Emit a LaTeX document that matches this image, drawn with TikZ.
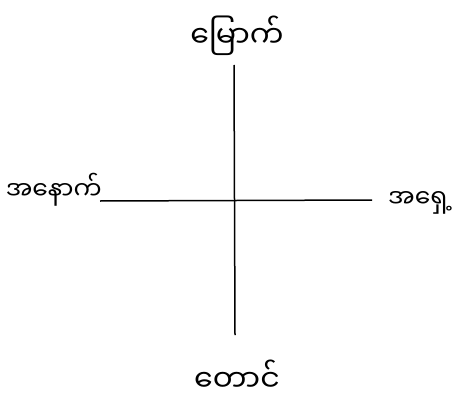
\documentclass[tikz,border=0pt]{standalone}
\usepackage{fontspec}
\newfontfamily\mmfont[Script=Myanmar]{Noto Sans Myanmar UI}
\begin{document}
\begin{tikzpicture}[x=1pt,y=-1pt,
  axis/.style={line width=1.5pt,black},
  lbl/.style={font=\mmfont\fontsize{25}{29}\selectfont,inner sep=0pt},
  biglbl/.style={lbl,font=\mmfont\fontsize{30}{34}\selectfont}]
\useasboundingbox (0,0) rectangle (462,401);
\coordinate (top) at (234,65);
\coordinate (bot) at (235,335);
\coordinate (lft) at (100,201);
\coordinate (rgt) at (372,200);
\draw[axis] (top) -- (bot);
\draw[axis] (lft) -- (rgt);
\node[biglbl] (n) at (237,36) {မြောက်};
\node[biglbl] (s) at (237,376) {တောင်};
\node[lbl,anchor=east] (w) at (102,190) {အနောက်};
\node[lbl,anchor=west] (e) at (388,203) {အရှေ့};
\end{tikzpicture}
\end{document}
